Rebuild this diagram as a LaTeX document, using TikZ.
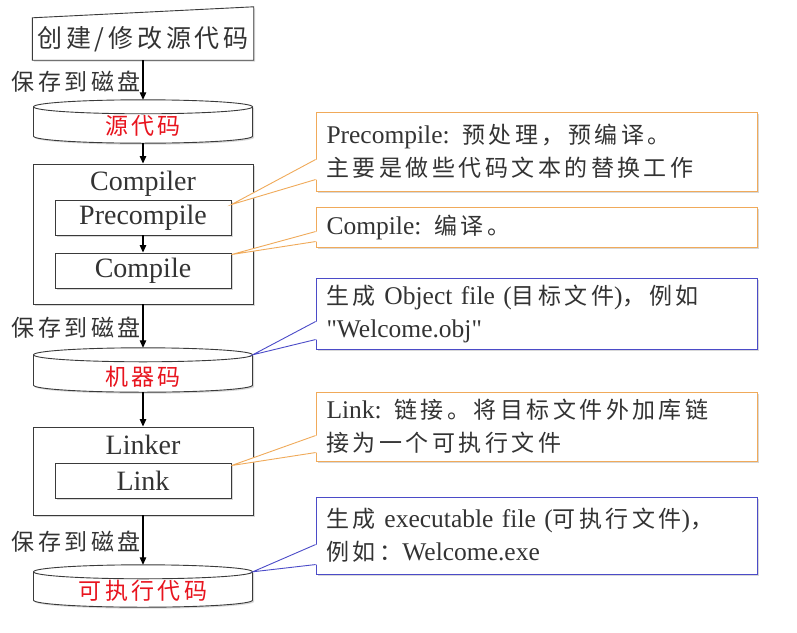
\documentclass[tikz,border=0pt]{standalone}
\usepackage{fontspec}
\setmainfont{Liberation Serif}
\newfontfamily\cjk{Noto Sans CJK SC}[LetterSpace=15.0]
\usetikzlibrary{arrows.meta,shadows,backgrounds}
\definecolor{txt}{HTML}{333333}
\definecolor{calloutorange}{HTML}{F0AA5A}
\definecolor{calloutblue}{HTML}{4B4BC8}
\definecolor{boxline}{HTML}{3A3A3A}
\definecolor{codered}{HTML}{E8141E}
\newcommand\zh[1]{{\cjk\fontsize{23}{33}\selectfont #1}}
\newcommand\dq{\XeTeXglyph\XeTeXcharglyph"22\relax}
\newcommand\cylout[1]{%
  \draw[cylline] ([shift={(-109.5,7)}]#1.north)
    arc[start angle=180,end angle=360,x radius=109.5pt,y radius=7pt]
    arc[start angle=0,end angle=180,x radius=109.5pt,y radius=7pt]
    -- ([shift={(-109.5,-7)}]#1.south)
    arc[start angle=180,end angle=360,x radius=109.5pt,y radius=7pt]
    -- ([shift={(109.5,7)}]#1.north);}
\newcommand\pointer[5]{%
  \fill[white] ([shift={(1.2,#3)}]#2.north west) -- #5 -- ([shift={(1.2,#4)}]#2.north west) -- cycle;
  \draw[#1,line width=0.9pt] ([shift={(0,#3)}]#2.north west) -- #5 -- ([shift={(0,#4)}]#2.north west);}
\begin{document}
\begin{tikzpicture}[x=1pt,y=-1pt,
  sh/.style={drop shadow={opacity=0.3,shadow xshift=1.5pt,shadow yshift=-1.5pt}},
  boxlinestyle/.style={draw=boxline,line width=0.9pt},
  outerbox/.style={boxlinestyle,fill=white,sh,minimum width=220pt,inner sep=0pt},
  innerbox/.style={boxlinestyle,fill=white,sh,minimum width=176pt,minimum height=35pt,inner sep=0pt,font=\fontsize{28}{30}\selectfont,text=txt},
  titletext/.style={inner sep=0pt,font=\fontsize{28}{30}\selectfont,text=txt},
  cylbody/.style={minimum width=219pt,inner sep=0pt,font=\cjk\fontsize{23}{25}\selectfont,text=codered,text depth=2.2pt},
  cylline/.style={boxlinestyle,fill=white,sh},
  edittext/.style={minimum width=221pt,minimum height=42pt,inner sep=0pt,font=\cjk\fontsize{25}{27}\selectfont,text=txt},
  arr/.style={draw=black,line width=1.1pt,-{Triangle[length=7.5pt,width=6.5pt]}},
  savelbl/.style={midway,left,inner sep=2pt,yshift=-2pt,font=\cjk\fontsize{23}{25}\selectfont,text=txt},
  callout/.style={fill=white,line width=0.9pt,sh,minimum width=441pt,text width=420pt,inner xsep=10.5pt,inner ysep=0pt,align=left,font=\fontsize{25.5}{33}\selectfont,text=txt}]

% nodes on the left
\node[edittext] (edit) at (143,39) {创建/修改源代码};
\node[cylbody,minimum height=43pt,text height=28pt] (src) at (143,121.5) {源代码};

\node[outerbox,minimum height=140pt] (compiler) at (143,234) {};
\node[titletext] (compilerttl) at (143,184) {Compiler};
\node[innerbox] (pre) at (143,217.5) {Precompile};
\node[innerbox] (comp) at (143,270.5) {Compile};

\node[cylbody,minimum height=44pt,text height=33pt] (obj) at (143,370) {机器码};

\node[outerbox,minimum height=88pt] (linker) at (143,471) {};
\node[titletext] (linkerttl) at (143,445) {Linker};
\node[innerbox] (link) at (143,480.5) {Link};

\node[cylbody,minimum height=42pt,text height=29pt] (exe) at (143,586) {可执行代码};

% background shapes
\begin{scope}[on background layer]
  \fill[white] (0,0) rectangle (797,632);
  \draw[boxlinestyle,fill=white,sh] (edit.south west) -- (edit.south east)
     -- ([yshift=11pt]edit.north east) -- (edit.north west) -- cycle;
  \cylout{src}
  \cylout{obj}
  \cylout{exe}
\end{scope}

% connectors
\draw[arr] (edit.south) -- node[savelbl] (save1) {保存到磁盘} (src.north);
\draw[arr] (src.south) -- (compiler.north);
\draw[arr] (pre.south) -- (comp.north);
\draw[arr] (compiler.south) -- node[savelbl] (save2) {保存到磁盘} (obj.north);
\draw[arr] (obj.south) -- (linker.north);
\draw[arr] (linker.south) -- node[savelbl] (save3) {保存到磁盘} (exe.north);

% callouts
\node[callout,draw=calloutorange,minimum height=79pt] (c1) at (536.5,151.5)
  {Precompile: \zh{预处理，预编译。}\\\zh{主要是做些代码文本的替换工作}};
\node[callout,draw=calloutorange,minimum height=40pt] (c2) at (536.5,227)
  {Compile: \zh{编译。}};
\node[callout,draw=calloutblue,minimum height=71pt] (c3) at (536.5,313.5)
  {\zh{生成} Object file (\zh{目标文件})\zh{，例如}\\\dq Welcome.obj\dq};
\node[callout,draw=calloutorange,minimum height=69pt] (c4) at (536.5,426.5)
  {Link: \zh{链接。将目标文件外加库链}\\\zh{接为一个可执行文件}};
\node[callout,draw=calloutblue,minimum height=77pt] (c5) at (536.5,535.5)
  {\zh{生成} executable file (\zh{可执行文件})\zh{，}\\\zh{例如：}Welcome.exe};

\pointer{calloutorange}{c1}{48}{68}{([yshift=-5pt]pre.north east)}
\pointer{calloutorange}{c2}{25}{35}{([yshift=-2pt]comp.north east)}
\pointer{calloutblue}{c3}{44}{62}{([yshift=-7pt]obj.north east)}
\pointer{calloutorange}{c4}{44}{61}{([yshift=-3pt]link.north east)}
\pointer{calloutblue}{c5}{48}{68}{([yshift=-7pt]exe.north east)}

\path[use as bounding box] (0,0) rectangle (797,632);
\end{tikzpicture}
\end{document}
